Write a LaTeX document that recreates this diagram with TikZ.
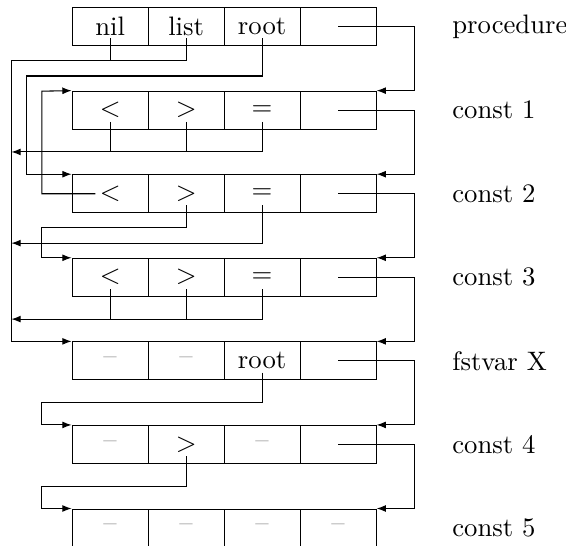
\documentclass[tikz,border=0pt]{standalone}
\usetikzlibrary{arrows.meta}
\tikzset{
  cell/.style={draw, minimum width=1cm, minimum height=0.5cm, inner sep=0pt},
  nix/.style={cell, text=gray},
  ptr/.style={-{Latex[length=3.5pt,width=2.6pt]}},
  lbl/.style={anchor=west},
}
\begin{document}
\begin{tikzpicture}
\useasboundingbox (-0.95,0.1) rectangle (6.5,-7.08);


\node[cell] (p1) at (0.5,-0.25) {nil};
\node[cell] (p2) at (1.5,-0.25) {list};
\node[cell] (p3) at (2.5,-0.25) {root};
\node[cell] (p4) at (3.5,-0.25) {};
\node[lbl] (lp) at (4.88,-0.25) {procedure};

\node[cell] (a1) at (0.5,-1.35) {$<$};
\node[cell] (a2) at (1.5,-1.35) {$>$};
\node[cell] (a3) at (2.5,-1.35) {$=$};
\node[cell] (a4) at (3.5,-1.35) {};
\node[lbl] (la) at (4.88,-1.35) {const 1};

\node[cell] (b1) at (0.5,-2.45) {$<$};
\node[cell] (b2) at (1.5,-2.45) {$>$};
\node[cell] (b3) at (2.5,-2.45) {$=$};
\node[cell] (b4) at (3.5,-2.45) {};
\node[lbl] (lb) at (4.88,-2.45) {const 2};

\node[cell] (c1) at (0.5,-3.55) {$<$};
\node[cell] (c2) at (1.5,-3.55) {$>$};
\node[cell] (c3) at (2.5,-3.55) {$=$};
\node[cell] (c4) at (3.5,-3.55) {};
\node[lbl] (lc) at (4.88,-3.55) {const 3};

\node[nix] (x1) at (0.5,-4.65) {--};
\node[nix] (x2) at (1.5,-4.65) {--};
\node[cell] (x3) at (2.5,-4.65) {root};
\node[cell] (x4) at (3.5,-4.65) {};
\node[lbl] (lx) at (4.88,-4.65) {fstvar X};

\node[nix] (d1) at (0.5,-5.75) {--};
\node[cell] (d2) at (1.5,-5.75) {$>$};
\node[nix] (d3) at (2.5,-5.75) {--};
\node[cell] (d4) at (3.5,-5.75) {};
\node[lbl] (ld) at (4.88,-5.75) {const 4};

\node[nix] (e1) at (0.5,-6.85) {--};
\node[nix] (e2) at (1.5,-6.85) {--};
\node[nix] (e3) at (2.5,-6.85) {--};
\node[nix] (e4) at (3.5,-6.85) {--};
\node[lbl] (le) at (4.88,-6.85) {const 5};


% next pointers on the right
\draw[ptr] (p4.center) -| ([xshift=5mm]a4.north east) -- (a4.north east);
\draw[ptr] (a4.center) -| ([xshift=5mm]b4.north east) -- (b4.north east);
\draw[ptr] (b4.center) -| ([xshift=5mm]c4.north east) -- (c4.north east);
\draw[ptr] (c4.center) -| ([xshift=5mm]x4.north east) -- (x4.north east);
\draw[ptr] (x4.center) -| ([xshift=5mm]d4.north east) -- (d4.north east);
\draw[ptr] (d4.center) -| ([xshift=5mm]e4.north east) -- (e4.north east);


\draw[ptr] ([yshift=-4.4pt]p2.center) |- (-0.8,-0.7) |- (x1.north west);
\draw ([yshift=-4.4pt]p1.center) -- (p1 |- -0.8,-0.7);
\draw[ptr] ([yshift=-4.4pt]p3.center) |- (-0.6,-0.9) |- (b1.north west);

\draw[ptr] ([yshift=-4.4pt]a3.center) |- (-0.8,-1.9);
\draw ([yshift=-4.4pt]a1.center) -- (a1 |- -0.8,-1.9);
\draw ([yshift=-4.4pt]a2.center) -- (a2 |- -0.8,-1.9);

\draw[ptr] ([xshift=-5.5pt]b1.center) -| (-0.4,-1.1) -- (a1.north west);
\draw[ptr] ([yshift=-4.4pt]b2.center) |- (-0.4,-2.9) |- (c1.north west);
\draw[ptr] ([yshift=-4.4pt]b3.center) |- (-0.8,-3.1);

\draw[ptr] ([yshift=-4.4pt]c3.center) |- (-0.8,-4.1);
\draw ([yshift=-4.4pt]c1.center) -- (c1 |- -0.8,-4.1);
\draw ([yshift=-4.4pt]c2.center) -- (c2 |- -0.8,-4.1);

\draw[ptr] ([yshift=-4.4pt]x3.center) |- (-0.4,-5.2) |- (d1.north west);
\draw[ptr] ([yshift=-4.4pt]d2.center) |- (-0.4,-6.3) |- (e1.north west);
\end{tikzpicture}
\end{document}
